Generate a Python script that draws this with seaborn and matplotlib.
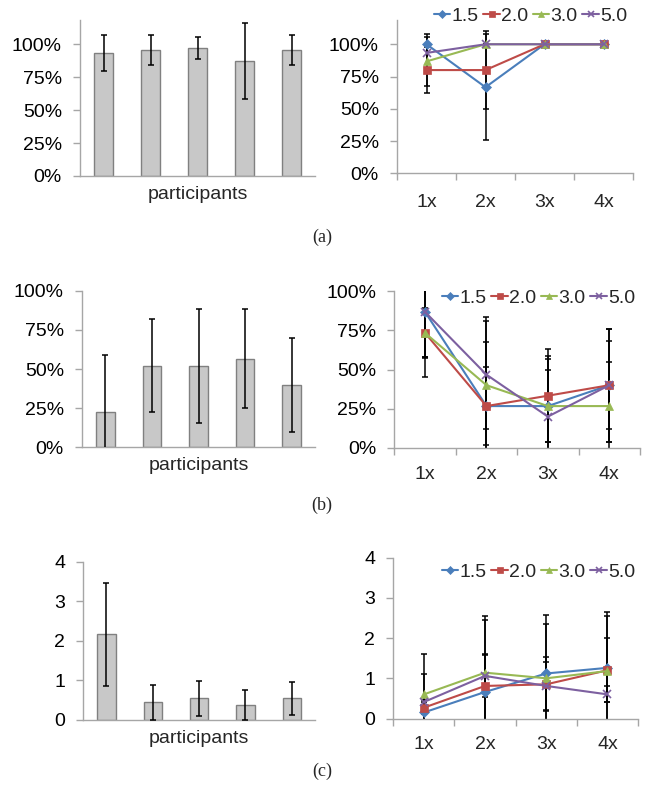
import numpy as np
import pandas as pd
import matplotlib
matplotlib.use("Agg")
import matplotlib.pyplot as plt
from matplotlib.ticker import PercentFormatter, FixedLocator
import seaborn as sns

# bar panels: one bar per participant (value, error)
participants = ["P1", "P2", "P3", "P4", "P5"]
bar_a = [0.936, 0.957, 0.974, 0.873, 0.957]
bar_a_err = [0.135, 0.115, 0.083, 0.29, 0.115]
bar_b = [0.227, 0.521, 0.521, 0.565, 0.398]
bar_b_err = [0.36, 0.297, 0.365, 0.316, 0.30]
bar_c = [2.17, 0.45, 0.55, 0.38, 0.55]
bar_c_err = [1.3, 0.44, 0.44, 0.39, 0.42]

# line panels: four series over the zoom levels
levels = ["1x", "2x", "3x", "4x"]
series_names = ["1.5", "2.0", "3.0", "5.0"]

line_a = {"1.5": [1.0, 0.667, 1.0, 1.0], "2.0": [0.8, 0.8, 1.0, 1.0],
          "3.0": [0.867, 1.0, 1.0, 1.0], "5.0": [0.933, 1.0, 1.0, 1.0]}
line_a_err = {"1.5": [0, 0.41, 0, 0], "2.0": [0.18, 0.30, 0, 0],
              "3.0": [0.19, 0, 0, 0], "5.0": [0.15, 0, 0, 0]}
line_b = {"1.5": [0.867, 0.267, 0.267, 0.4], "2.0": [0.733, 0.267, 0.333, 0.4],
          "3.0": [0.733, 0.4, 0.267, 0.267], "5.0": [0.867, 0.467, 0.2, 0.4]}
line_b_err = {"1.5": [0.29, 0.25, 0.32, 0.36], "2.0": [0.28, 0.41, 0.297, 0.28],
              "3.0": [0.16, 0.436, 0.23, 0.28], "5.0": [0.29, 0.345, 0.37, 0.36]}
line_c = {"1.5": [0.15, 0.66, 1.12, 1.26], "2.0": [0.27, 0.81, 0.85, 1.2],
          "3.0": [0.60, 1.14, 1.0, 1.18], "5.0": [0.41, 1.06, 0.81, 0.6]}
line_c_err = {"1.5": [0.3, 0.94, 1.45, 1.4], "2.0": [0.15, 1.74, 0.67, 0.8],
              "3.0": [1.0, 1.3, 1.34, 1.37], "5.0": [0.7, 0.52, 0.6, 0.2]}

colors = {"1.5": "#4a7ebb", "2.0": "#be4b48", "3.0": "#98b954", "5.0": "#7d60a0"}
markers = {"1.5": "D", "2.0": "s", "3.0": "^", "5.0": "x"}
msizes = {"1.5": 5, "2.0": 6, "3.0": 6, "5.0": 6}

sns.set_theme(style="white")
plt.rcParams["font.family"] = ["Liberation Sans", "DejaVu Sans"]
GRAY = "#a6a6a6"
FS = 14

fig = plt.figure(figsize=(6.46, 7.87), dpi=100)


def add_ax(x0, x1, ytop, ybot):
    return fig.add_axes([x0 / 646, 1 - ybot / 787, (x1 - x0) / 646, (ybot - ytop) / 787])


def style_axes(ax):
    for s in ["top", "right"]:
        ax.spines[s].set_visible(False)
    for s in ["left", "bottom"]:
        ax.spines[s].set_color(GRAY)
        ax.spines[s].set_linewidth(1)
    ax.tick_params(axis="y", left=True, length=5, width=1, color=GRAY,
                   direction="out", pad=8, labelsize=FS, labelcolor="black")


def bar_panel(ax, vals, errs, ymax, pct):
    df = pd.DataFrame({"participant": participants, "value": vals})
    sns.barplot(data=df, x="participant", y="value", color="#c8c8c8",
                edgecolor="#808080", linewidth=1, width=0.4, errorbar=None,
                saturation=1, ax=ax)
    ax.errorbar(np.arange(len(vals)), vals, yerr=errs, fmt="none", ecolor="black",
                elinewidth=1.1, capsize=2.5, capthick=1.1, zorder=3)
    ax.set_xlim(-0.5, 4.5)
    ax.set_ylim(0, ymax)
    style_axes(ax)
    ax.set_xticks([])
    ax.set_xlabel("participants", fontsize=FS, labelpad=7)
    ax.set_ylabel("")
    if pct:
        ax.set_yticks([0, 0.25, 0.5, 0.75, 1.0])
        ax.yaxis.set_major_formatter(PercentFormatter(1.0, decimals=0))
    else:
        ax.set_yticks([0, 1, 2, 3, 4])


def line_panel(ax, data, errs, ymax, pct, leg_xy, xpad):
    pos = np.arange(len(levels))
    for name in series_names:
        ax.errorbar(pos, data[name], yerr=errs[name], fmt="none", ecolor="black",
                    elinewidth=1.1, capsize=2.5, capthick=1.1, zorder=1.5)
    for name in series_names:
        sns.lineplot(x=pos, y=data[name], color=colors[name], marker=markers[name],
                     markersize=msizes[name], markeredgecolor=colors[name],
                     markeredgewidth=1.2 if markers[name] == "x" else 0.5,
                     linewidth=1.5, label=name, ax=ax, zorder=3)
    ax.set_xlim(-0.5, 3.5)
    ax.set_ylim(0, ymax)
    style_axes(ax)
    ax.set_xticks(pos, levels)
    ax.xaxis.set_minor_locator(FixedLocator([-0.5, 0.5, 1.5, 2.5, 3.5]))
    ax.tick_params(axis="x", which="major", bottom=True, length=0, pad=xpad,
                   labelsize=FS)
    ax.tick_params(axis="x", which="minor", bottom=True, length=5, width=1,
                   color=GRAY, direction="out")
    ax.set_xlabel("")
    ax.set_ylabel("")
    if pct:
        ax.set_yticks([0, 0.25, 0.5, 0.75, 1.0])
        ax.yaxis.set_major_formatter(PercentFormatter(1.0, decimals=0))
    else:
        ax.set_yticks([0, 1, 2, 3, 4])
    ax.legend(ncol=4, loc="center right",
              bbox_to_anchor=(leg_xy[0] / 646, 1 - leg_xy[1] / 787),
              bbox_transform=fig.transFigure, frameon=False, fontsize=FS,
              handlelength=0.85, handletextpad=0.05, columnspacing=0.25,
              borderaxespad=0, borderpad=0, markerscale=0.8)


# (a)
bar_panel(add_ax(80, 315, 20, 176), bar_a, bar_a_err, 1.185, True)
line_panel(add_ax(397, 633, 20, 173.3), line_a, line_a_err, 1.188, True, (627, 16), 15)
# (b)
bar_panel(add_ax(82, 315, 290.7, 447.3), bar_b, bar_b_err, 1.0, True)
line_panel(add_ax(394.3, 640, 291, 448), line_b, line_b_err, 1.0, True, (635, 298), 13)
# (c)
bar_panel(add_ax(83.3, 315, 561.7, 720), bar_c, bar_c_err, 4.0, False)
line_panel(add_ax(393.3, 638, 557.7, 718.5), line_c, line_c_err, 4.0, False, (635, 572), 12.5)

for label, y in [("(a)", 237), ("(b)", 505), ("(c)", 771)]:
    fig.text(322 / 646, 1 - y / 787, label, family="Liberation Serif", fontsize=13,
             ha="center", va="center")

fig.savefig("out.png", dpi=100)
